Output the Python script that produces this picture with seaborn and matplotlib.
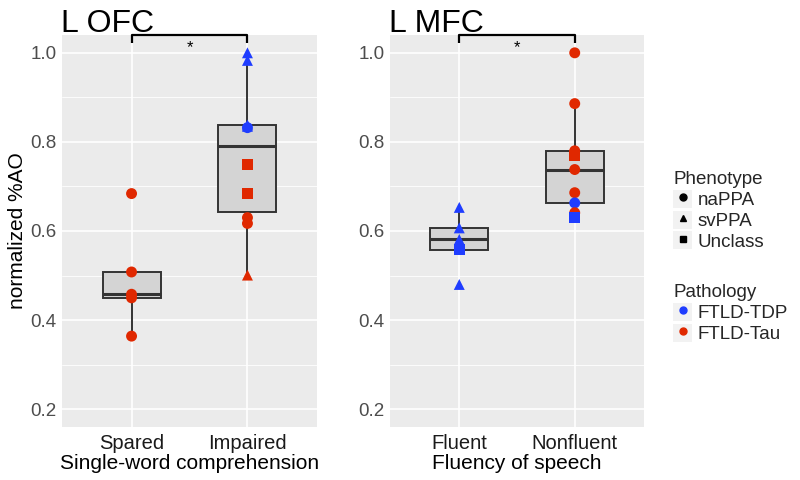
import numpy as np
import pandas as pd
import matplotlib
matplotlib.use("Agg")
import matplotlib.pyplot as plt
import seaborn as sns
from matplotlib.lines import Line2D
from matplotlib.patches import Patch

sns.set_theme(style="darkgrid")
plt.rcParams["font.family"] = ["Liberation Sans", "DejaVu Sans"]

# Datos
ofc_group = ["Spared"] * 5 + ["Impaired"] * 10
ofc_value = [0.684, 0.508, 0.458, 0.450, 0.364,
             1.000, 0.983, 0.838, 0.835, 0.832, 0.750, 0.684, 0.630, 0.617, 0.501]
ofc_pheno = ["naPPA"] * 5 + ["svPPA", "svPPA", "svPPA", "svPPA", "naPPA",
                             "Unclass", "Unclass", "naPPA", "naPPA", "svPPA"]
ofc_path = ["FTLD-Tau"] * 5 + ["FTLD-TDP"] * 5 + ["FTLD-Tau"] * 5

mfc_group = ["Fluent"] * 5 + ["Nonfluent"] * 9
mfc_value = [0.653, 0.607, 0.581, 0.558, 0.480,
             1.000, 0.886, 0.780, 0.770, 0.738, 0.686, 0.663, 0.641, 0.630]
mfc_pheno = ["svPPA", "svPPA", "svPPA", "Unclass", "svPPA",
             "naPPA", "naPPA", "naPPA", "Unclass", "naPPA", "naPPA", "naPPA", "naPPA", "Unclass"]
mfc_path = ["FTLD-TDP"] * 5 + ["FTLD-Tau"] * 6 + ["FTLD-TDP", "FTLD-Tau", "FTLD-TDP"]

pheno_levels = ["naPPA", "svPPA", "Unclass"]
path_levels = ["FTLD-TDP", "FTLD-Tau"]
markers = {"naPPA": "o", "svPPA": "^", "Unclass": "s"}
palette = {"FTLD-TDP": "#1f3dff", "FTLD-Tau": "#e02800"}

df_ofc = pd.DataFrame({"group": ofc_group, "value": ofc_value, "pheno": ofc_pheno, "path": ofc_path})
df_mfc = pd.DataFrame({"group": mfc_group, "value": mfc_value, "pheno": mfc_pheno, "path": mfc_path})

fig = plt.figure(figsize=(8, 4.8), dpi=100)
ax1 = fig.add_axes([62 / 800, 1 - 427 / 480, 255 / 800, 392 / 480])
ax2 = fig.add_axes([390 / 800, 1 - 427 / 480, 254 / 800, 392 / 480])

panels = [
    (ax1, df_ofc, ["Spared", "Impaired"], "L OFC", "Single-word comprehension"),
    (ax2, df_mfc, ["Fluent", "Nonfluent"], "L MFC", "Fluency of speech"),
]

for ax, df, order, title, xlabel in panels:
    ax.set_facecolor("#ebebeb")
    sns.boxplot(data=df, x="group", y="value", order=order, ax=ax, width=0.5,
                showfliers=False, showcaps=False, color="#d4d4d4", linecolor="#333333",
                linewidth=1.4, saturation=1, medianprops={"linewidth": 2.2})
    sns.scatterplot(data=df, x="group", y="value", hue="path", style="pheno",
                    hue_order=path_levels, style_order=pheno_levels,
                    markers=markers, palette=palette, s=62, linewidth=0,
                    ax=ax, legend=False, zorder=4)
    ax.set_xlim(-0.6, 1.6)
    ax.set_ylim(0.16, 1.04)
    ax.set_yticks([0.2, 0.4, 0.6, 0.8, 1.0])
    ax.set_yticklabels(["0.2", "0.4", "0.6", "0.8", "1.0"])
    ax.set_yticks([0.3, 0.5, 0.7, 0.9], minor=True)
    ax.grid(True, which="major", color="white", linewidth=1.2)
    ax.grid(True, which="minor", axis="y", color="white", linewidth=0.6)
    ax.set_axisbelow(True)
    for s in ax.spines.values():
        s.set_visible(False)
    ax.tick_params(axis="both", which="major", length=3, color="#4d4d4d", width=0.8,
                   labelsize=13.5, labelcolor="#4d4d4d", pad=1)
    ax.tick_params(axis="both", which="minor", length=0)
    ax.tick_params(axis="x", labelsize=14.5, labelcolor="#1a1a1a", pad=2)
    ax.set_xlabel(xlabel, fontsize=15, color="black", labelpad=1)
    ax.set_ylabel("")
    ax.set_title(title, loc="left", fontsize=23, pad=2, x=-0.005, color="black")

    # Corchete de significancia
    ax.plot([0, 0, 1, 1], [1.022, 1.039, 1.039, 1.022], color="black", lw=1.6,
            clip_on=False, zorder=5, solid_capstyle="butt")
    ax.text(0.5, 1.012, "*", ha="center", va="center", fontsize=12, zorder=5, color="black")

ax1.set_ylabel("normalized %AO", fontsize=15, labelpad=2, color="black")

# Leyendas
key_bg = "#f2f2f2"
pheno_handles = [(Patch(facecolor=key_bg, edgecolor="none"),
                  Line2D([], [], marker=markers[p], color="black", linestyle="none", markersize=5))
                 for p in pheno_levels]
path_handles = [(Patch(facecolor=key_bg, edgecolor="none"),
                 Line2D([], [], marker="o", color=palette[p], linestyle="none", markersize=5))
                for p in path_levels]

leg_kw = dict(loc="upper left", frameon=False, fontsize=13.5, title_fontsize=13.5,
              handlelength=1.0, handleheight=1.1, handletextpad=0.3,
              labelspacing=0.08, alignment="left", borderpad=0.2)
leg1 = fig.legend(pheno_handles, pheno_levels, title="Phenotype",
                  bbox_to_anchor=(660 / 800, 1 - 158 / 480), **leg_kw)
leg2 = fig.legend(path_handles, path_levels, title="Pathology",
                  bbox_to_anchor=(660 / 800, 1 - 271 / 480), **leg_kw)

fig.savefig("out.png", dpi=100)
